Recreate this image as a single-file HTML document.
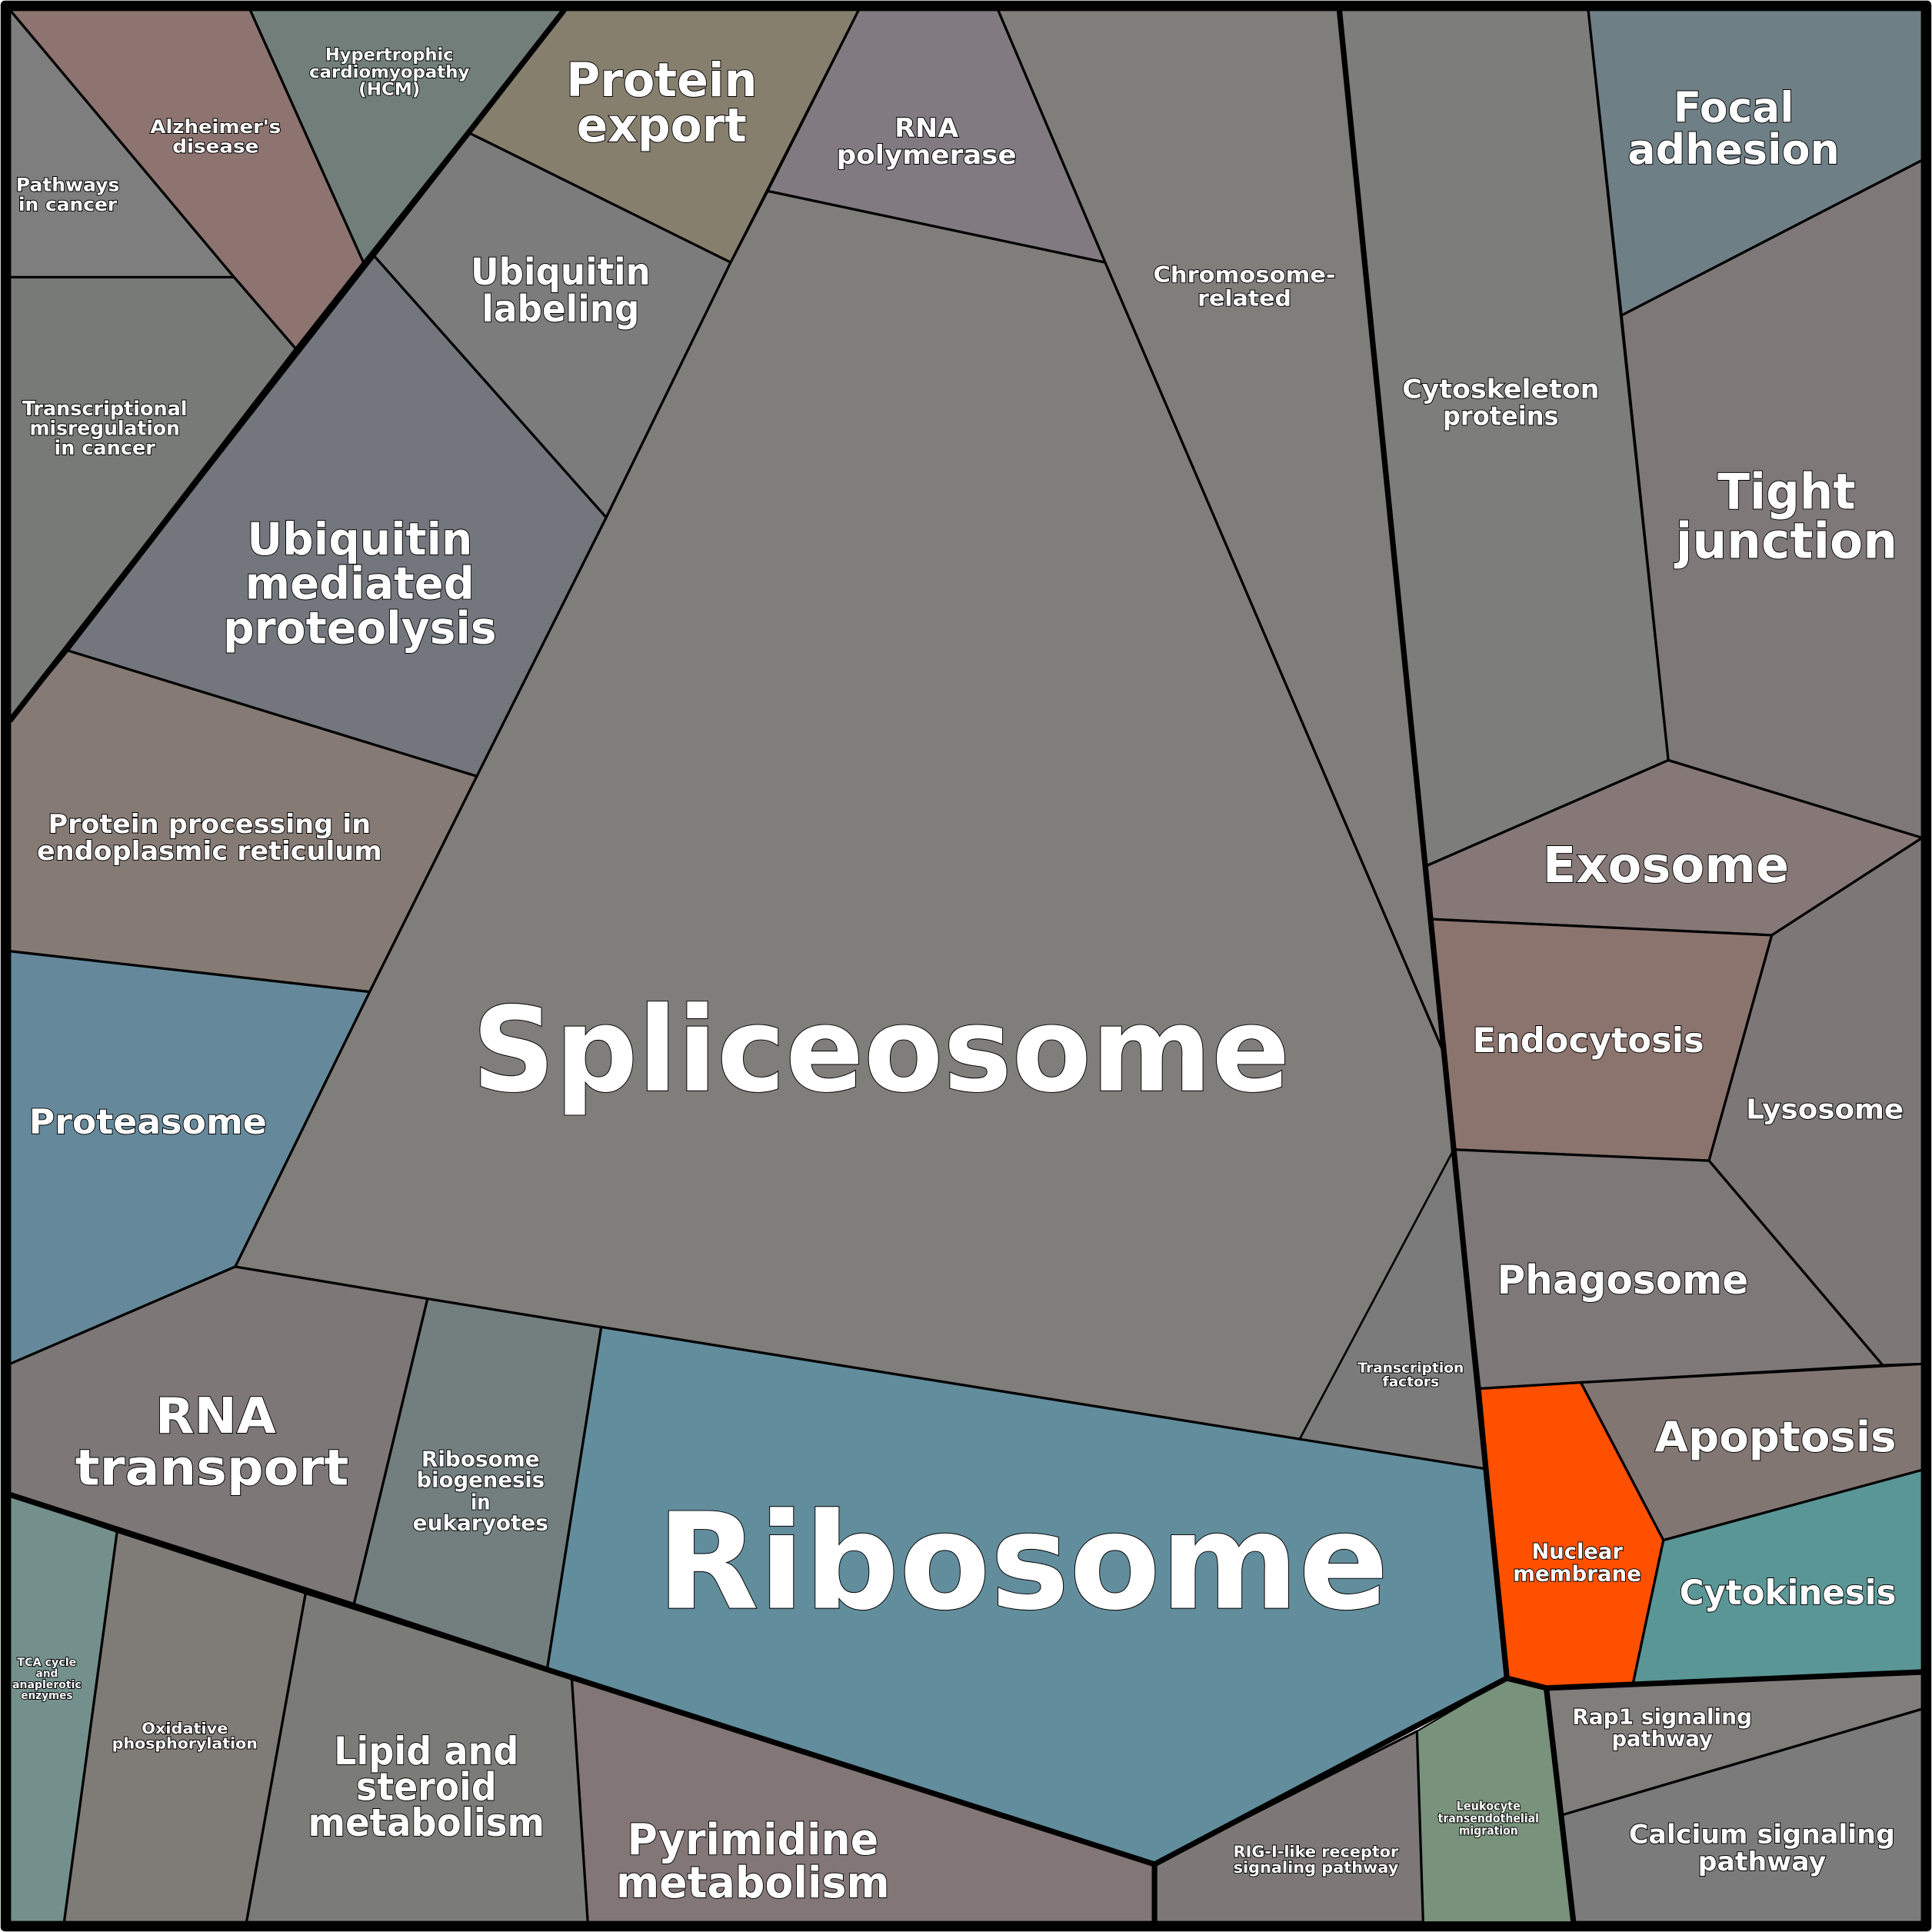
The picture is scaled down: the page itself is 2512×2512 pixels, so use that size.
<!DOCTYPE html>
<html><head><meta charset="utf-8"><style>
html,body{margin:0;padding:0;background:#fff}
svg{display:block}
text{font-family:"DejaVu Sans","Liberation Sans",sans-serif;font-weight:bold;fill:#fff;stroke:#000;stroke-width:1.2;paint-order:stroke;text-anchor:middle}
</style></head><body>
<svg width="2512" height="2512" viewBox="0 0 1568 1568" xmlns="http://www.w3.org/2000/svg">
<g stroke="#000" stroke-width="2" stroke-linejoin="round">
<polygon fill="#7e7e7e" points="8,8 8,225 190,225"/>
<polygon fill="#8d7470" points="8,8 203,8 295,213 240,283 190,225"/>
<polygon fill="#727e7a" points="203,8 458,8 295,213"/>
<polygon fill="#777a76" points="8,225 190,225 240,283 8,585"/>
<polygon fill="#877f6e" points="458,8 697,8 593,213 381,108"/>
<polygon fill="#7c7c7c" points="381,108 593,213 492,420 303,207"/>
<polygon fill="#73777d" points="303,207 492,420 387,630 55,528"/>
<polygon fill="#857a74" points="8,585 55,528 387,630 300,805 8,772"/>
<polygon fill="#65899a" points="8,772 300,805 191,1028 8,1107"/>
<polygon fill="#7d7778" points="8,1107 191,1028 347,1054 287,1303 248,1293 8,1213"/>
<polygon fill="#737f7e" points="347,1054 488,1077 444,1355 287,1303"/>
<polygon fill="#7f7e7a" points="623,155 897,213 1172,855 1180,933 1055,1168 488,1077 347,1054 191,1028 300,805 387,630 492,420 593,213"/>
<polygon fill="#817a80" points="697,8 810,8 897,213 623,155"/>
<polygon fill="#7f7e7b" points="810,8 1087,8 1172,855 897,213"/>
<polygon fill="#7b7b7b" stroke-width="1.3" points="1180,933 1205,1192 1055,1168"/>
<polygon fill="#628d9c" points="488,1077 1055,1168 1205,1192 1223,1362 937,1513 444,1355"/>
<polygon fill="#7d7e7b" points="1087,8 1289,8 1354,617 1157,703"/>
<polygon fill="#6f7f86" points="1289,8 1560,8 1560,130 1316,256"/>
<polygon fill="#7f7878" points="1316,256 1560,130 1560,680 1354,617"/>
<polygon fill="#857876" points="1157,703 1354,617 1560,680 1438,759 1162,746"/>
<polygon fill="#8c746e" points="1162,746 1438,759 1387,942 1180,933"/>
<polygon fill="#7d7877" points="1438,759 1560,680 1560,1107 1528,1108 1387,942"/>
<polygon fill="#7f7878" points="1180,933 1387,942 1528,1108 1283,1122 1201,1127"/>
<polygon fill="#827673" points="1283,1122 1560,1107 1560,1193 1350,1250"/>
<polygon fill="#ff5000" points="1201,1127 1283,1122 1350,1250 1325,1368 1255,1370 1223,1362"/>
<polygon fill="#5a9696" points="1350,1250 1560,1193 1560,1357 1325,1368"/>
<polygon fill="#7f7e7b" points="1255,1370 1560,1357 1560,1387 1268,1473"/>
<polygon fill="#7b7b7b" points="1268,1473 1560,1387 1560,1560 1277,1560"/>
<polygon fill="#78927c" stroke-width="1.3" points="1223,1362 1255,1370 1277,1560 1155,1560 1150,1405"/>
<polygon fill="#7d7777" points="937,1513 1150,1405 1155,1560 937,1560"/>
<polygon fill="#837676" points="464,1362 937,1513 937,1560 477,1560"/>
<polygon fill="#7b7c77" points="248,1293 464,1362 477,1560 200,1560"/>
<polygon fill="#7f7c78" points="95,1243 248,1293 200,1560 52,1560"/>
<polygon fill="#74908c" points="8,1213 95,1243 52,1560 8,1560"/>
</g>
<g fill="none" stroke="#000" stroke-width="4.5" stroke-linejoin="round">
<polyline points="458,8 8,585"/>
<polyline points="1087,8 1172,855 1223,1362"/>
<polyline points="8,1213 287,1303 444,1355 937,1513 1223,1362 1255,1370 1560,1357"/>
<polyline points="937,1513 937,1560"/>
<polyline points="1255,1370 1277,1560"/>
<rect x="4" y="4" width="1560" height="1560" stroke-width="7"/>
</g>
<text x="715" y="885" font-size="95" textLength="664" lengthAdjust="spacingAndGlyphs" stroke-width="1.5">Spliceosome</text>
<text x="830" y="1305" font-size="108" textLength="594" lengthAdjust="spacingAndGlyphs" stroke-width="1.5">Ribosome</text>
<text x="120" y="920" font-size="28" textLength="193" lengthAdjust="spacingAndGlyphs">Proteasome</text>
<text x="175" y="1163" font-size="40" textLength="98" lengthAdjust="spacingAndGlyphs">RNA</text>
<text x="172" y="1205" font-size="40" textLength="222" lengthAdjust="spacingAndGlyphs">transport</text>
<text x="292" y="450" font-size="36" textLength="183" lengthAdjust="spacingAndGlyphs">Ubiquitin</text>
<text x="292" y="486" font-size="36" textLength="186" lengthAdjust="spacingAndGlyphs">mediated</text>
<text x="292" y="522" font-size="36" textLength="222" lengthAdjust="spacingAndGlyphs">proteolysis</text>
<text x="170" y="676" font-size="21" textLength="262" lengthAdjust="spacingAndGlyphs">Protein processing in</text>
<text x="170" y="698" font-size="21" textLength="280" lengthAdjust="spacingAndGlyphs">endoplasmic reticulum</text>
<text x="85" y="337" font-size="16" textLength="134" lengthAdjust="spacingAndGlyphs">Transcriptional</text>
<text x="85" y="353" font-size="16" textLength="122" lengthAdjust="spacingAndGlyphs">misregulation</text>
<text x="85" y="369" font-size="16" textLength="82" lengthAdjust="spacingAndGlyphs">in cancer</text>
<text x="55" y="155" font-size="15" textLength="84" lengthAdjust="spacingAndGlyphs">Pathways</text>
<text x="55" y="171" font-size="15" textLength="80" lengthAdjust="spacingAndGlyphs">in cancer</text>
<text x="175" y="108" font-size="15" textLength="106" lengthAdjust="spacingAndGlyphs">Alzheimer's</text>
<text x="175" y="124" font-size="15" textLength="70" lengthAdjust="spacingAndGlyphs">disease</text>
<text x="316" y="49" font-size="14" textLength="104" lengthAdjust="spacingAndGlyphs">Hypertrophic</text>
<text x="316" y="63" font-size="14" textLength="130" lengthAdjust="spacingAndGlyphs">cardiomyopathy</text>
<text x="316" y="77" font-size="14" textLength="50" lengthAdjust="spacingAndGlyphs">(HCM)</text>
<text x="537" y="78" font-size="38" textLength="155" lengthAdjust="spacingAndGlyphs">Protein</text>
<text x="537" y="115" font-size="38" textLength="138" lengthAdjust="spacingAndGlyphs">export</text>
<text x="455" y="231" font-size="30" textLength="146" lengthAdjust="spacingAndGlyphs">Ubiquitin</text>
<text x="455" y="261" font-size="30" textLength="128" lengthAdjust="spacingAndGlyphs">labeling</text>
<text x="752" y="111" font-size="21" textLength="52" lengthAdjust="spacingAndGlyphs">RNA</text>
<text x="752" y="133" font-size="21" textLength="146" lengthAdjust="spacingAndGlyphs">polymerase</text>
<text x="1010" y="229" font-size="18" textLength="148" lengthAdjust="spacingAndGlyphs">Chromosome-</text>
<text x="1010" y="248" font-size="18" textLength="76" lengthAdjust="spacingAndGlyphs">related</text>
<text x="1218" y="323" font-size="21" textLength="160" lengthAdjust="spacingAndGlyphs">Cytoskeleton</text>
<text x="1218" y="345" font-size="21" textLength="94" lengthAdjust="spacingAndGlyphs">proteins</text>
<text x="1407" y="99" font-size="34" textLength="98" lengthAdjust="spacingAndGlyphs">Focal</text>
<text x="1407" y="133" font-size="34" textLength="172" lengthAdjust="spacingAndGlyphs">adhesion</text>
<text x="1450" y="413" font-size="40" textLength="112" lengthAdjust="spacingAndGlyphs">Tight</text>
<text x="1450" y="453" font-size="40" textLength="180" lengthAdjust="spacingAndGlyphs">junction</text>
<text x="1352" y="716" font-size="40" textLength="200" lengthAdjust="spacingAndGlyphs">Exosome</text>
<text x="1289" y="854" font-size="28" textLength="188" lengthAdjust="spacingAndGlyphs">Endocytosis</text>
<text x="1481" y="908" font-size="22" textLength="128" lengthAdjust="spacingAndGlyphs">Lysosome</text>
<text x="1317" y="1050" font-size="32" textLength="204" lengthAdjust="spacingAndGlyphs">Phagosome</text>
<text x="1441" y="1178" font-size="34" textLength="196" lengthAdjust="spacingAndGlyphs">Apoptosis</text>
<text x="1451" y="1302" font-size="28" textLength="176" lengthAdjust="spacingAndGlyphs">Cytokinesis</text>
<text x="1280" y="1265" font-size="17" textLength="74" lengthAdjust="spacingAndGlyphs">Nuclear</text>
<text x="1280" y="1283" font-size="17" textLength="104" lengthAdjust="spacingAndGlyphs">membrane</text>
<text x="1349" y="1399" font-size="17" textLength="146" lengthAdjust="spacingAndGlyphs">Rap1 signaling</text>
<text x="1349" y="1417" font-size="17" textLength="82" lengthAdjust="spacingAndGlyphs">pathway</text>
<text x="1430" y="1496" font-size="21" textLength="216" lengthAdjust="spacingAndGlyphs">Calcium signaling</text>
<text x="1430" y="1518" font-size="21" textLength="104" lengthAdjust="spacingAndGlyphs">pathway</text>
<text x="1208" y="1469" font-size="10" textLength="52" lengthAdjust="spacingAndGlyphs" stroke-width="0.6">Leukocyte</text>
<text x="1208" y="1479" font-size="10" textLength="82" lengthAdjust="spacingAndGlyphs" stroke-width="0.6">transendothelial</text>
<text x="1208" y="1489" font-size="10" textLength="48" lengthAdjust="spacingAndGlyphs" stroke-width="0.6">migration</text>
<text x="1068" y="1507" font-size="13" textLength="134" lengthAdjust="spacingAndGlyphs" stroke-width="0.8">RIG-I-like receptor</text>
<text x="1068" y="1520" font-size="13" textLength="134" lengthAdjust="spacingAndGlyphs" stroke-width="0.8">signaling pathway</text>
<text x="611" y="1505" font-size="35" textLength="204" lengthAdjust="spacingAndGlyphs">Pyrimidine</text>
<text x="611" y="1540" font-size="35" textLength="222" lengthAdjust="spacingAndGlyphs">metabolism</text>
<text x="346" y="1432" font-size="31" textLength="150" lengthAdjust="spacingAndGlyphs">Lipid and</text>
<text x="346" y="1461" font-size="31" textLength="114" lengthAdjust="spacingAndGlyphs">steroid</text>
<text x="346" y="1490" font-size="31" textLength="192" lengthAdjust="spacingAndGlyphs">metabolism</text>
<text x="150" y="1407" font-size="12" textLength="70" lengthAdjust="spacingAndGlyphs" stroke-width="0.7">Oxidative</text>
<text x="150" y="1419" font-size="12" textLength="118" lengthAdjust="spacingAndGlyphs" stroke-width="0.7">phosphorylation</text>
<text x="38" y="1352" font-size="9" textLength="48" lengthAdjust="spacingAndGlyphs" stroke-width="0.5">TCA cycle</text>
<text x="38" y="1361" font-size="9" textLength="18" lengthAdjust="spacingAndGlyphs" stroke-width="0.5">and</text>
<text x="38" y="1370" font-size="9" textLength="56" lengthAdjust="spacingAndGlyphs" stroke-width="0.5">anaplerotic</text>
<text x="38" y="1379" font-size="9" textLength="42" lengthAdjust="spacingAndGlyphs" stroke-width="0.5">enzymes</text>
<text x="390" y="1190" font-size="17" textLength="96" lengthAdjust="spacingAndGlyphs">Ribosome</text>
<text x="390" y="1207" font-size="17" textLength="104" lengthAdjust="spacingAndGlyphs">biogenesis</text>
<text x="390" y="1225" font-size="17" textLength="16" lengthAdjust="spacingAndGlyphs">in</text>
<text x="390" y="1242" font-size="17" textLength="110" lengthAdjust="spacingAndGlyphs">eukaryotes</text>
<text x="1145" y="1114" font-size="11" textLength="86" lengthAdjust="spacingAndGlyphs" stroke-width="0.7">Transcription</text>
<text x="1145" y="1125" font-size="11" textLength="46" lengthAdjust="spacingAndGlyphs" stroke-width="0.7">factors</text>
</svg>
</body></html>
